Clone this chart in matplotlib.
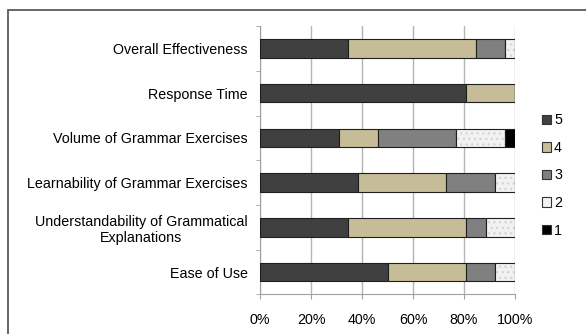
import numpy as np
import matplotlib
matplotlib.use('Agg')
import matplotlib.pyplot as plt
from matplotlib.patches import Patch, Rectangle

plt.rcParams['font.family'] = ['Liberation Sans', 'DejaVu Sans']

categories = ['Overall Effectiveness', 'Response Time', 'Volume of Grammar Exercises',
              'Learnability of Grammar Exercises',
              'Understandability of Grammatical\nExplanations', 'Ease of Use']
# percent of answers per rating, same order as categories
rating_5 = [34.6, 80.8, 30.8, 38.5, 34.6, 50.0]
rating_4 = [50.0, 19.2, 15.4, 34.6, 46.2, 30.8]
rating_3 = [11.5, 0.0, 30.8, 19.2, 7.7, 11.5]
rating_2 = [3.8, 0.0, 19.2, 7.7, 11.5, 7.7]
rating_1 = [0.0, 0.0, 3.8, 0.0, 0.0, 0.0]
series_labels = ['5', '4', '3', '2', '1']
xtick_values = [0, 20, 40, 60, 80, 100]

colors = ['#404040', '#c6bd98', '#808080', '#f2f2f2', '#000000']
fs = 10.3

fig = plt.figure(figsize=(5.86, 3.34), dpi=100)
ax = fig.add_axes([0.4437, 0.1186, 0.4352, 0.803])

y = np.arange(len(categories))
left = np.zeros(len(categories))
for vals, col, lab in zip([rating_5, rating_4, rating_3, rating_2, rating_1], colors, series_labels):
    vals = np.array(vals)
    if lab == '2':
        # speckled fill
        ax.barh(y, vals, left=left, height=0.41, color=col, edgecolor='#d6d6d6',
                hatch='...', linewidth=0, zorder=3)
        ax.barh(y, vals, left=left, height=0.41, fill=False, edgecolor='#1e1e1e',
                linewidth=0.8, zorder=4)
    else:
        ax.barh(y, vals, left=left, height=0.41, color=col, edgecolor='#1e1e1e',
                linewidth=0.8, zorder=3)
    left = left + vals

ax.set_xlim(0, 100)
ax.set_ylim(len(categories) - 0.5, -0.5)
ax.set_xticks(xtick_values)
ax.set_xticklabels([f'{v}%' for v in xtick_values], fontsize=fs)
ax.set_yticks(y)
ax.set_yticklabels(categories, fontsize=fs, multialignment='center')
ax.set_yticks(np.arange(-0.5, len(categories)), minor=True)
ax.tick_params(axis='y', which='major', length=0, pad=9)
ax.tick_params(axis='y', which='minor', length=3, color='#a0a0a0', direction='out')
ax.tick_params(axis='x', length=3.5, color='#a0a0a0', pad=10)
ax.xaxis.grid(True, color='#b4b4b4', linewidth=1, zorder=0)
ax.set_axisbelow(True)
for s in ['top', 'right']:
    ax.spines[s].set_visible(False)
for s in ['left', 'bottom']:
    ax.spines[s].set_color('#a0a0a0')

handles = [Patch(facecolor=c, edgecolor='#333333', linewidth=0.8) for c in colors]
fig.legend(handles, series_labels, loc='center left', bbox_to_anchor=(0.915, 0.4746),
           frameon=False, fontsize=fs, handlelength=0.65, handleheight=0.65,
           handletextpad=0.2, labelspacing=0.95, borderaxespad=0)

# outer chart frame (cut off on the right and bottom)
fig.patches.append(Rectangle((8 / 586, -0.1), 1.2, 1.1 - 10 / 334,
                             transform=fig.transFigure, fill=False,
                             edgecolor='#5a5a5a', linewidth=1.3))

fig.savefig('out.png', dpi=100)
